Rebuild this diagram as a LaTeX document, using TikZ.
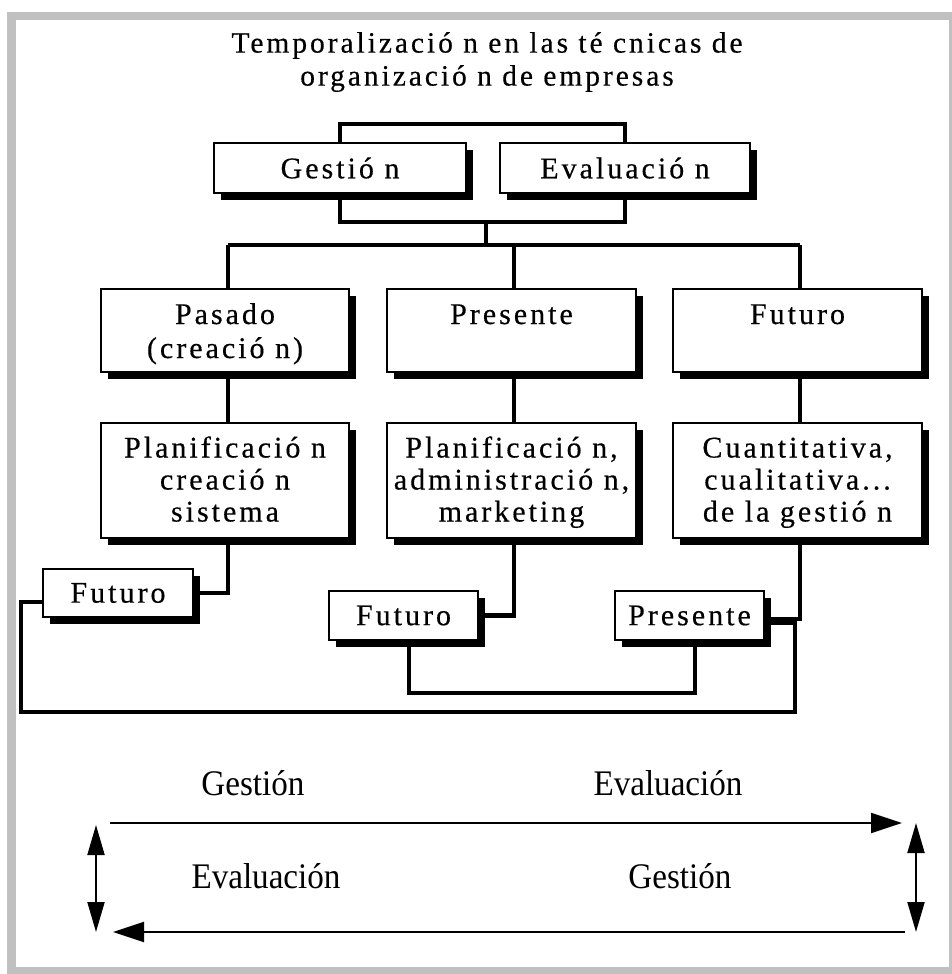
\documentclass[tikz,border=0pt]{standalone}
\usepackage{fontspec}
\setmainfont{Liberation Serif}
\newfontfamily\spc[LetterSpace=10,FakeBold=0.4]{Liberation Serif}
\usetikzlibrary{shadows,arrows.meta}
\definecolor{framegrey}{RGB}{192,192,192}
\pgfdeclarelayer{back}
\pgfdeclarelayer{bg}
\pgfsetlayers{back,bg,main}
\newcommand\topstrut[1]{\rule{0pt}{#1}}
\newcommand\botstrut[1]{\rule[-#1]{0pt}{0pt}}
\begin{document}
\begin{tikzpicture}[x=1pt,y=-1pt,
  box/.style={draw, line width=1.8pt, fill=white,
    drop shadow={shadow xshift=7pt, shadow yshift=-7pt, fill=black, opacity=1},
    inner sep=0pt, align=center, font=\spc\fontsize{30}{34}\selectfont},
  tallbox/.style={box, font=\spc\fontsize{30}{32}\selectfont},
  conn/.style={line width=4.5pt},
  lbl/.style={font=\fontsize{36}{40}\selectfont, anchor=base, inner sep=0pt},
  arr/.style={line width=2pt, -{Triangle[length=31pt,width=20pt]}},
  darr/.style={line width=2pt, {Triangle[length=30pt,width=17pt]}-{Triangle[length=30pt,width=17pt]}}]
\useasboundingbox (0,0) rectangle (951,974);
\begin{pgfonlayer}{back}
  \fill[framegrey] (7,12) rectangle (960,985);
  \fill[white] (15.5,20.5) rectangle (949,967);
\end{pgfonlayer}

% title
\node[font=\spc\fontsize{29.5}{33}\selectfont, align=center] (title) at (487,62)
  {Temporalizació n en las té cnicas de\\organizació n de empresas};

% top boxes
\node[box, minimum width=252pt, minimum height=50pt] (gest) at (340,168) {Gestió n};
\node[box, minimum width=250pt, minimum height=50pt] (eval) at (625,168) {Evaluació n};

% row 1
\node[box, minimum width=248pt, minimum height=83pt] (pas) at (225,330.5)
  {\topstrut{28pt}Pasado\\(creació n)\botstrut{7pt}};
\node[box, minimum width=249pt, minimum height=83pt] (pre) at (511.5,330.5)
  {\topstrut{28pt}Presente\\\botstrut{7pt}};
\node[box, minimum width=249pt, minimum height=83pt] (fut) at (797.5,330.5)
  {\topstrut{28pt}Futuro\\\botstrut{7pt}};

% row 2
\node[tallbox, minimum width=248pt, minimum height=115pt] (pl1) at (225,480.5)
  {\topstrut{26pt}Planificació n\\creació n\\sistema\botstrut{8pt}};
\node[tallbox, minimum width=249pt, minimum height=115pt] (pl2) at (511.5,480.5)
  {\topstrut{26pt}Planificació n,\\administració n,\\marketing\botstrut{8pt}};
\node[tallbox, minimum width=249pt, minimum height=115pt] (pl3) at (797.5,480.5)
  {\topstrut{26pt}Cuantitativa,\\cualitativa...\\de la gestió n\botstrut{8pt}};

% small boxes
\node[box, minimum width=150pt, minimum height=48pt] (f1) at (118,593) {Futuro};
\node[box, minimum width=149pt, minimum height=49pt] (f2) at (403.5,615.5) {Futuro};
\node[box, minimum width=149pt, minimum height=49pt] (ps) at (689.5,615.5) {Presente};

% connectors
\begin{pgfonlayer}{bg}
  \coordinate (tb) at (483,124);
  \coordinate (lb) at (486,222);
  \coordinate (mb) at (486,245);
  \coordinate (c1) at (228,245);
  \coordinate (c2) at (514,245);
  \coordinate (c3) at (800,245);
  \coordinate (b1) at (409,693);
  \coordinate (b2) at (695,693);
  \coordinate (l1) at (795,712);
  \coordinate (l2) at (21,712);
  \draw[conn] (gest.north) |- (tb) -| (eval.north);
  \draw[conn] (gest.south) |- (lb) -| (eval.south);
  \draw[conn] (lb) -- (mb);
  \draw[conn] (c1) -- (c3);
  \draw[conn] (c1) |- (f1.east);
  \draw[conn] (c2) |- (f2.east);
  \draw[conn] (c3) |- ([yshift=-3.5pt]ps.east);
  \draw[conn] (b1 |- f2.south) -- (b1) -- (b2) -- (b2 |- ps.south);
  \draw[conn] ([yshift=-7pt]ps.east) -| (l1) -- (l2) |- ([yshift=-9pt]f1.west);
\end{pgfonlayer}

% bottom part
\node[lbl] (g1) at (253,795) {\scalebox{0.92}[1]{Gestión}};
\node[lbl] (e1) at (668,795) {\scalebox{0.92}[1]{Evaluación}};
\node[lbl] (e2) at (266,888) {\scalebox{0.92}[1]{Evaluación}};
\node[lbl] (g2) at (680,888) {\scalebox{0.92}[1]{Gestión}};
\coordinate (a1) at (110,823);
\coordinate (a2) at (902,823);
\coordinate (a3) at (905,932);
\coordinate (a4) at (113,932);
\coordinate (v1) at (96,825);
\coordinate (v2) at (96,932);
\coordinate (v3) at (916,823);
\coordinate (v4) at (916,932);
\draw[arr] (a1) -- (a2);
\draw[arr] (a3) -- (a4);
\draw[darr] (v1) -- (v2);
\draw[darr] (v3) -- (v4);
\end{tikzpicture}
\end{document}
